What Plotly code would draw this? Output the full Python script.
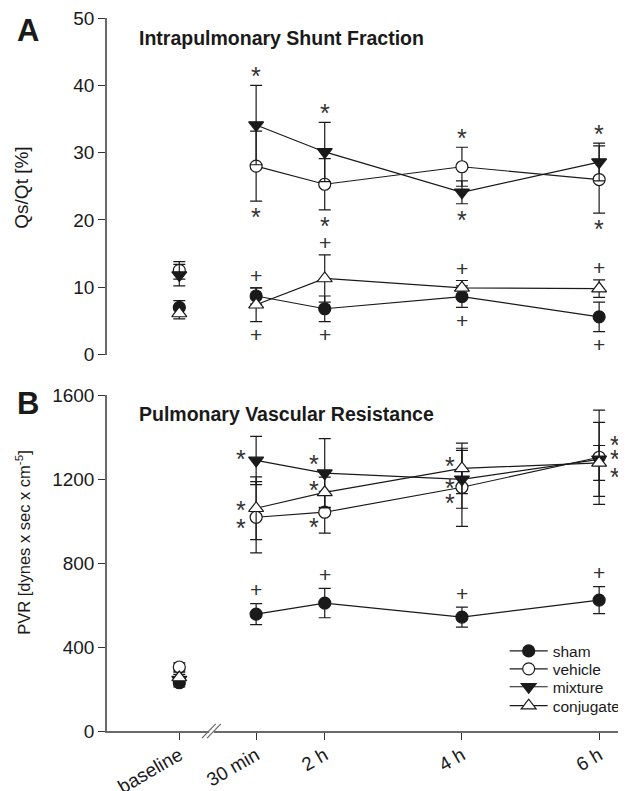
import plotly.graph_objects as go

# ---------------- data ----------------
time_labels = ["baseline", "30 min", "2 h", "4 h", "6 h"]
time_pos = [-0.12, 1, 2, 4, 6]          # axis position of each time point

groups = ["sham", "vehicle", "mixture", "conjugate"]

# Panel A: intrapulmonary shunt fraction Qs/Qt [%]
shunt_sham = [7.0, 8.7, 6.8, 8.6, 5.6]
shunt_sham_sd = [1.0, 1.2, 1.9, 1.6, 2.2]
shunt_vehicle = [12.5, 28.0, 25.3, 27.9, 26.0]
shunt_vehicle_sd = [1.3, 5.2, 3.8, 2.9, 5.0]
shunt_mixture = [11.8, 34.1, 30.1, 24.1, 28.6]
shunt_mixture_sd = [1.6, 5.9, 4.4, 1.7, 2.8]
shunt_conjugate = [6.1, 7.4, 11.3, 9.9, 9.8]
shunt_conjugate_sd = [0.8, 2.5, 3.5, 1.1, 1.3]

# Panel B: pulmonary vascular resistance [dyn s cm^-5]
pvr_sham = [230, 557, 610, 543, 624]
pvr_sham_sd = [20, 50, 70, 48, 64]
pvr_vehicle = [305, 1019, 1043, 1162, 1305]
pvr_vehicle_sd = [20, 170, 100, 186, 225]
pvr_mixture = [245, 1290, 1229, 1200, 1295]
pvr_mixture_sd = [25, 115, 165, 138, 176]
pvr_conjugate = [255, 1062, 1138, 1252, 1278]
pvr_conjugate_sd = [25, 150, 72, 120, 83]

shunt_ticks = [0, 10, 20, 30, 40, 50]
pvr_ticks = [0, 400, 800, 1200, 1600]

# ---------------- style ----------------
FONT = "Arial, Liberation Sans, Helvetica, sans-serif"
INK = "#1a1a1a"
AXC = "#6a6a6a"
styles = {
    "sham": dict(symbol="circle", color=INK, size=12),
    "vehicle": dict(symbol="circle", color="white", size=12),
    "mixture": dict(symbol="triangle-down", color=INK, size=13),
    "conjugate": dict(symbol="triangle-up", color="white", size=13),
}
legend_ids = {"sham": "legend", "vehicle": "legend2", "mixture": "legend3", "conjugate": "legend4"}

shunt = {"sham": (shunt_sham, shunt_sham_sd), "vehicle": (shunt_vehicle, shunt_vehicle_sd),
         "mixture": (shunt_mixture, shunt_mixture_sd), "conjugate": (shunt_conjugate, shunt_conjugate_sd)}
pvr = {"sham": (pvr_sham, pvr_sham_sd), "vehicle": (pvr_vehicle, pvr_vehicle_sd),
       "mixture": (pvr_mixture, pvr_mixture_sd), "conjugate": (pvr_conjugate, pvr_conjugate_sd)}

fig = go.Figure()


def add_group(name, mean, sd, xa, ya, legend):
    st = styles[name]
    marker = dict(symbol=st["symbol"], size=st["size"], color=st["color"],
                  line=dict(color=INK, width=1.2))
    err = dict(type="data", visible=True, thickness=1.2, width=6, color=INK)
    # baseline point (not connected)
    fig.add_trace(go.Scatter(
        x=time_pos[:1], y=mean[:1], mode="markers", marker=marker,
        error_y=dict(array=sd[:1], **err), xaxis=xa, yaxis=ya,
        showlegend=False, name=name, cliponaxis=False))
    # time course
    fig.add_trace(go.Scatter(
        x=time_pos[1:], y=mean[1:], mode="lines+markers", marker=marker,
        line=dict(color=INK, width=1.2),
        error_y=dict(array=sd[1:], **err), xaxis=xa, yaxis=ya,
        showlegend=legend, name=name, legend=legend_ids[name], cliponaxis=False))


for g in groups:
    add_group(g, *shunt[g], "x", "y", False)
for g in groups:
    add_group(g, *pvr[g], "x2", "y2", True)

annotations = []


def star(x, y, xa, ya, xshift=0, yshift=0):
    # '*' glyph sits high in its line box; shift down to centre it on the point
    annotations.append(dict(x=x, y=y, xref=xa, yref=ya, text="*", showarrow=False,
                            font=dict(family=FONT, size=25, color="#333"),
                            xanchor="center", yanchor="middle",
                            xshift=xshift, yshift=yshift - 3))


def plus(x, y, xa, ya, yshift=0):
    annotations.append(dict(x=x, y=y, xref=xa, yref=ya, text="+", showarrow=False,
                            font=dict(family=FONT, size=21, color="#333"),
                            xanchor="center", yanchor="middle", yshift=yshift))


# Panel A significance marks (after baseline)
for i in range(1, 5):
    hi_injured = max(shunt_vehicle[i] + shunt_vehicle_sd[i], shunt_mixture[i] + shunt_mixture_sd[i])
    lo_injured = min(shunt_vehicle[i] - shunt_vehicle_sd[i], shunt_mixture[i] - shunt_mixture_sd[i])
    star(time_pos[i], hi_injured, "x", "y", yshift=12)
    star(time_pos[i], lo_injured, "x", "y", yshift=-13)
    hi_ctrl = max(shunt_sham[i] + shunt_sham_sd[i], shunt_conjugate[i] + shunt_conjugate_sd[i])
    lo_ctrl = min(shunt_sham[i] - shunt_sham_sd[i], shunt_conjugate[i] - shunt_conjugate_sd[i])
    plus(time_pos[i], hi_ctrl, "x", "y", yshift=12)
    plus(time_pos[i], lo_ctrl, "x", "y", yshift=-13)

# Panel B significance marks (pixel offsets from the marker, top to bottom)
side_shift = [0, -15, -11, -12, 16]
spread = {1: [-4, -1, 8], 2: [-12, -5, 12], 3: [-5, 6, 13], 4: [-18, -4, 14]}
for i in range(1, 5):
    vals = sorted([pvr_vehicle[i], pvr_mixture[i], pvr_conjugate[i]], reverse=True)
    for k, v in enumerate(vals):
        if i == 4:
            v = sum(vals) / 3
        star(time_pos[i], v, "x2", "y2", xshift=side_shift[i], yshift=-spread[i][k])
    plus(time_pos[i], pvr_sham[i] + pvr_sham_sd[i], "x2", "y2", yshift=14)

# Axis titles, panel titles, letters
annotations += [
    dict(x=0, y=0.762, xref="paper", yref="paper", xshift=-85, text="Qs/Qt [%]",
         textangle=-90, showarrow=False, font=dict(family=FONT, size=19, color=INK),
         xanchor="center", yanchor="middle"),
    dict(x=0, y=0.264, xref="paper", yref="paper", xshift=-84,
         text="PVR [dynes x sec x cm<sup>-5</sup>]",
         textangle=-90, showarrow=False, font=dict(family=FONT, size=16.5, color=INK),
         xanchor="center", yanchor="middle"),
    dict(x=0.058, y=0.972, xref="paper", yref="paper", text="<b>Intrapulmonary Shunt Fraction</b>",
         showarrow=False, font=dict(family=FONT, size=19.5, color=INK), xanchor="left", yanchor="middle"),
    dict(x=0.058, y=0.445, xref="paper", yref="paper", text="<b>Pulmonary Vascular Resistance</b>",
         showarrow=False, font=dict(family=FONT, size=19.5, color=INK), xanchor="left", yanchor="middle"),
    dict(x=0, y=0.983, xref="paper", yref="paper", xshift=-92, text="<b>A</b>",
         showarrow=False, font=dict(family=FONT, size=31, color=INK), xanchor="left", yanchor="middle"),
    dict(x=0, y=0.4595, xref="paper", yref="paper", xshift=-92, text="<b>B</b>",
         showarrow=False, font=dict(family=FONT, size=31, color=INK), xanchor="left", yanchor="middle"),
]

# Axis break mark on the x axis (between baseline and 30 min)
brk = time_pos[0] + 0.42 * (time_pos[1] - time_pos[0])
shapes = [
    dict(type="rect", xref="x2", yref="paper", x0=brk - 0.035, x1=brk + 0.035, y0=-0.003, y1=0.003,
         fillcolor="white", line=dict(width=0), layer="above"),
    dict(type="line", xref="x2", yref="paper", x0=brk - 0.14, x1=brk + 0.06, y0=-0.010, y1=0.010,
         line=dict(color=AXC, width=1.2), layer="above"),
    dict(type="line", xref="x2", yref="paper", x0=brk - 0.065, x1=brk + 0.135, y0=-0.010, y1=0.010,
         line=dict(color=AXC, width=1.2), layer="above"),
]

xrange = [-1.174, 6.348]
yax = dict(showgrid=False, zeroline=False, showline=True, linecolor=AXC, linewidth=1.5,
           ticks="outside", ticklen=7, tickwidth=1.2, tickcolor="#333", ticklabeloverflow="allow",
           tickfont=dict(family=FONT, size=19, color=INK))

leg = dict(x=0.7707, xanchor="left", yanchor="middle", bgcolor="rgba(0,0,0,0)",
           font=dict(family=FONT, size=15.5, color=INK), itemwidth=38, borderwidth=0)

# page body has an 8 px default margin: size the figure so the plot lands where the reference has it
fig.update_layout(
    width=618, height=783,
    margin=dict(l=99, r=0, t=7, b=60),
    paper_bgcolor="white", plot_bgcolor="white",
    font=dict(family=FONT, color=INK),
    xaxis=dict(domain=[0, 1], anchor="y", range=xrange, visible=False, showgrid=False, zeroline=False),
    yaxis=dict(domain=[0.528, 1], anchor="x", range=[0, 50], tickvals=shunt_ticks, **yax),
    xaxis2=dict(domain=[0, 1], anchor="y2", range=xrange, tickvals=time_pos, ticktext=time_labels,
                tickangle=-30, showgrid=False, zeroline=False, showline=True, linecolor=AXC,
                linewidth=2, ticks="outside", ticklen=7, tickwidth=1.2, tickcolor="#333",
                ticklabelstandoff=-3,
                tickfont=dict(family=FONT, size=19, color=INK), automargin=False),
    yaxis2=dict(domain=[0, 0.4707], anchor="x2", range=[0, 1600], tickvals=pvr_ticks, **yax),
    legend=dict(y=0.1117, **leg),
    legend2=dict(y=0.0866, **leg),
    legend3=dict(y=0.0615, **leg),
    legend4=dict(y=0.0349, **leg),
    annotations=annotations,
    shapes=shapes,
)

fig.write_html("out.html")
